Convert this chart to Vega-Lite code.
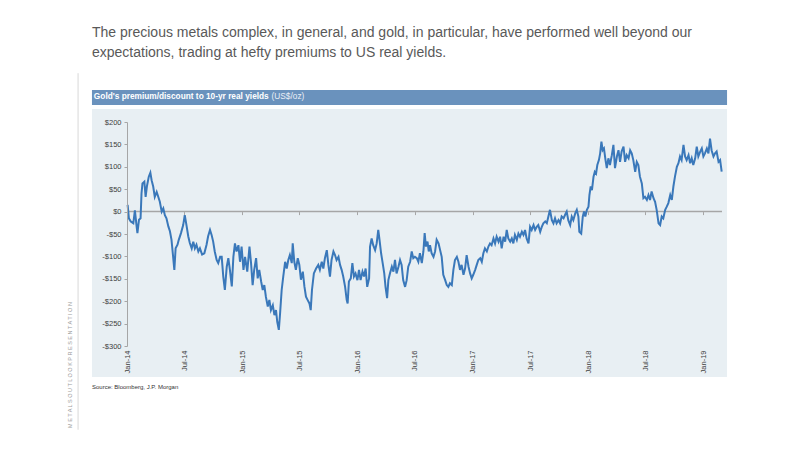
{
  "$schema": "https://vega.github.io/schema/vega-lite/v6.json",
  "width": 595,
  "height": 224,
  "autosize": "none",
  "padding": {"left": 127, "top": 122, "right": 80, "bottom": 105},
  "background": "white",
  "config": {"view": {"stroke": null}, "font": "Liberation Sans"},
  "title": {
    "text": ["The precious metals complex, in general, and gold, in particular, have performed well beyond our", "expectations, trading at hefty premiums to US real yields."],
    "anchor": "start",
    "frame": "group",
    "dx": -35,
    "offset": -1,
    "fontSize": 14,
    "fontWeight": "normal",
    "font": "Liberation Sans",
    "color": "#595959",
    "lineHeight": 20,
    "baseline": "bottom"
  },
  "resolve": {"axis": {"x": "independent", "y": "independent"}},
  "datasets": {
    "gold": [
      {"d":"2014-01-03","v":15},{"d":"2014-01-07","v":-15},{"d":"2014-01-13","v":-22},{"d":"2014-01-21","v":-26},{"d":"2014-01-26","v":3},{"d":"2014-01-31","v":-30},{"d":"2014-02-03","v":-48},{"d":"2014-02-08","v":-18},{"d":"2014-02-13","v":-15},{"d":"2014-02-16","v":41},{"d":"2014-02-19","v":63},{"d":"2014-02-25","v":67},{"d":"2014-03-01","v":33},{"d":"2014-03-05","v":56},{"d":"2014-03-11","v":78},{"d":"2014-03-16","v":87},{"d":"2014-03-20","v":70},{"d":"2014-03-25","v":56},{"d":"2014-03-30","v":33},{"d":"2014-04-05","v":44},{"d":"2014-04-10","v":33},{"d":"2014-04-15","v":22},{"d":"2014-04-21","v":0},{"d":"2014-04-26","v":7},{"d":"2014-05-01","v":-8},{"d":"2014-05-06","v":-15},{"d":"2014-05-12","v":-33},{"d":"2014-05-17","v":-44},{"d":"2014-05-22","v":-63},{"d":"2014-05-27","v":-100},{"d":"2014-05-31","v":-130},{"d":"2014-06-04","v":-82},{"d":"2014-06-10","v":-74},{"d":"2014-06-14","v":-63},{"d":"2014-06-21","v":-48},{"d":"2014-06-28","v":-30},{"d":"2014-07-03","v":-8},{"d":"2014-07-09","v":-33},{"d":"2014-07-14","v":-55},{"d":"2014-07-19","v":-70},{"d":"2014-07-25","v":-82},{"d":"2014-07-30","v":-67},{"d":"2014-08-04","v":-82},{"d":"2014-08-09","v":-74},{"d":"2014-08-15","v":-89},{"d":"2014-08-20","v":-82},{"d":"2014-08-27","v":-96},{"d":"2014-09-03","v":-93},{"d":"2014-09-10","v":-74},{"d":"2014-09-15","v":-55},{"d":"2014-09-21","v":-41},{"d":"2014-09-26","v":-52},{"d":"2014-10-01","v":-67},{"d":"2014-10-06","v":-89},{"d":"2014-10-12","v":-108},{"d":"2014-10-17","v":-115},
      {"d":"2014-10-23","v":-101},{"d":"2014-10-28","v":-101},{"d":"2014-11-02","v":-145},{"d":"2014-11-07","v":-175},{"d":"2014-11-13","v":-123},{"d":"2014-11-18","v":-104},{"d":"2014-11-23","v":-130},{"d":"2014-11-29","v":-167},{"d":"2014-12-04","v":-101},{"d":"2014-12-09","v":-71},{"d":"2014-12-14","v":-89},{"d":"2014-12-20","v":-75},{"d":"2014-12-25","v":-112},{"d":"2014-12-30","v":-78},
      {"d":"2015-01-05","v":-130},{"d":"2015-01-10","v":-101},{"d":"2015-01-17","v":-134},{"d":"2015-01-24","v":-78},{"d":"2015-01-29","v":-115},{"d":"2015-02-03","v":-164},{"d":"2015-02-08","v":-130},{"d":"2015-02-14","v":-104},{"d":"2015-02-19","v":-149},{"d":"2015-02-24","v":-130},{"d":"2015-03-02","v":-156},{"d":"2015-03-07","v":-175},{"d":"2015-03-12","v":-164},{"d":"2015-03-17","v":-190},{"d":"2015-03-23","v":-212},{"d":"2015-03-28","v":-197},{"d":"2015-04-02","v":-220},{"d":"2015-04-08","v":-209},{"d":"2015-04-13","v":-231},{"d":"2015-04-18","v":-220},{"d":"2015-04-22","v":-246},{"d":"2015-04-27","v":-264},{"d":"2015-05-01","v":-227},{"d":"2015-05-06","v":-175},{"d":"2015-05-11","v":-145},{"d":"2015-05-17","v":-112},{"d":"2015-05-22","v":-127},{"d":"2015-05-27","v":-108},{"d":"2015-06-01","v":-97},{"d":"2015-06-07","v":-115},{"d":"2015-06-10","v":-71},{"d":"2015-06-15","v":-112},{"d":"2015-06-20","v":-130},{"d":"2015-06-26","v":-104},{"d":"2015-07-01","v":-119},{"d":"2015-07-06","v":-152},{"d":"2015-07-12","v":-134},{"d":"2015-07-17","v":-167},{"d":"2015-07-22","v":-190},{"d":"2015-07-27","v":-197},{"d":"2015-08-02","v":-205},{"d":"2015-08-06","v":-220},{"d":"2015-08-10","v":-175},{"d":"2015-08-16","v":-138},{"d":"2015-08-23","v":-127},{"d":"2015-08-30","v":-119},{"d":"2015-09-04","v":-130},{"d":"2015-09-10","v":-112},{"d":"2015-09-15","v":-127},{"d":"2015-09-20","v":-104},{"d":"2015-09-26","v":-86},{"d":"2015-10-01","v":-119},{"d":"2015-10-06","v":-145},{"d":"2015-10-11","v":-108},{"d":"2015-10-17","v":-89},{"d":"2015-10-22","v":-97},{"d":"2015-10-27","v":-108},{"d":"2015-11-02","v":-101},{"d":"2015-11-07","v":-119},{"d":"2015-11-12","v":-130},{"d":"2015-11-17","v":-145},{"d":"2015-11-23","v":-168},{"d":"2015-11-28","v":-197},{"d":"2015-12-01","v":-205},{"d":"2015-12-05","v":-156},{"d":"2015-12-11","v":-149},{"d":"2015-12-16","v":-115},{"d":"2015-12-21","v":-145},{"d":"2015-12-26","v":-138},
      {"d":"2016-01-01","v":-153},{"d":"2016-01-06","v":-130},{"d":"2016-01-11","v":-153},{"d":"2016-01-17","v":-134},{"d":"2016-01-22","v":-145},{"d":"2016-01-27","v":-127},{"d":"2016-02-01","v":-168},{"d":"2016-02-07","v":-149},{"d":"2016-02-10","v":-78},{"d":"2016-02-15","v":-60},{"d":"2016-02-20","v":-75},{"d":"2016-02-26","v":-86},{"d":"2016-03-02","v":-71},{"d":"2016-03-07","v":-41},{"d":"2016-03-11","v":-63},{"d":"2016-03-16","v":-93},{"d":"2016-03-21","v":-115},{"d":"2016-03-26","v":-138},{"d":"2016-03-30","v":-168},{"d":"2016-04-04","v":-193},{"d":"2016-04-08","v":-153},{"d":"2016-04-13","v":-138},{"d":"2016-04-19","v":-123},{"d":"2016-04-24","v":-134},{"d":"2016-04-29","v":-108},{"d":"2016-05-04","v":-138},{"d":"2016-05-10","v":-123},{"d":"2016-05-15","v":-108},{"d":"2016-05-20","v":-119},{"d":"2016-05-25","v":-153},{"d":"2016-05-31","v":-168},{"d":"2016-06-05","v":-153},{"d":"2016-06-10","v":-123},{"d":"2016-06-16","v":-112},{"d":"2016-06-21","v":-89},{"d":"2016-06-26","v":-104},{"d":"2016-07-01","v":-101},{"d":"2016-07-07","v":-104},{"d":"2016-07-12","v":-112},{"d":"2016-07-17","v":-93},{"d":"2016-07-23","v":-115},{"d":"2016-07-28","v":-89},{"d":"2016-08-01","v":-48},{"d":"2016-08-05","v":-78},{"d":"2016-08-10","v":-67},{"d":"2016-08-14","v":-89},{"d":"2016-08-18","v":-75},{"d":"2016-08-23","v":-93},{"d":"2016-08-29","v":-101},{"d":"2016-09-03","v":-89},{"d":"2016-09-08","v":-63},{"d":"2016-09-14","v":-71},{"d":"2016-09-19","v":-86},{"d":"2016-09-24","v":-101},{"d":"2016-09-29","v":-141},{"d":"2016-10-05","v":-153},{"d":"2016-10-10","v":-164},{"d":"2016-10-15","v":-168},{"d":"2016-10-20","v":-160},{"d":"2016-10-26","v":-164},{"d":"2016-10-31","v":-130},{"d":"2016-11-05","v":-108},{"d":"2016-11-11","v":-101},{"d":"2016-11-16","v":-112},{"d":"2016-11-21","v":-130},{"d":"2016-11-26","v":-119},{"d":"2016-12-02","v":-141},{"d":"2016-12-07","v":-127},{"d":"2016-12-12","v":-97},{"d":"2016-12-18","v":-123},{"d":"2016-12-23","v":-138},{"d":"2016-12-28","v":-149},
      {"d":"2017-01-02","v":-141},{"d":"2017-01-08","v":-130},{"d":"2017-01-13","v":-119},{"d":"2017-01-18","v":-108},{"d":"2017-01-24","v":-104},{"d":"2017-01-29","v":-112},{"d":"2017-02-03","v":-93},{"d":"2017-02-08","v":-82},{"d":"2017-02-14","v":-89},{"d":"2017-02-19","v":-78},{"d":"2017-02-24","v":-71},{"d":"2017-03-01","v":-75},{"d":"2017-03-07","v":-60},{"d":"2017-03-12","v":-71},{"d":"2017-03-17","v":-56},{"d":"2017-03-23","v":-67},{"d":"2017-03-28","v":-56},{"d":"2017-04-02","v":-82},{"d":"2017-04-08","v":-56},{"d":"2017-04-13","v":-67},{"d":"2017-04-18","v":-41},{"d":"2017-04-23","v":-60},{"d":"2017-04-29","v":-67},{"d":"2017-05-04","v":-60},{"d":"2017-05-09","v":-71},{"d":"2017-05-14","v":-52},{"d":"2017-05-20","v":-63},{"d":"2017-05-25","v":-49},{"d":"2017-05-30","v":-56},{"d":"2017-06-05","v":-45},{"d":"2017-06-10","v":-52},{"d":"2017-06-15","v":-41},{"d":"2017-06-20","v":-60},{"d":"2017-06-26","v":-71},{"d":"2017-07-01","v":-34},{"d":"2017-07-06","v":-41},{"d":"2017-07-12","v":-30},{"d":"2017-07-17","v":-41},{"d":"2017-07-22","v":-34},{"d":"2017-07-27","v":-30},{"d":"2017-08-02","v":-45},{"d":"2017-08-07","v":-34},{"d":"2017-08-12","v":-26},{"d":"2017-08-18","v":-22},{"d":"2017-08-23","v":-26},{"d":"2017-08-28","v":-11},{"d":"2017-09-02","v":4},{"d":"2017-09-08","v":-19},{"d":"2017-09-13","v":-26},{"d":"2017-09-18","v":-15},{"d":"2017-09-23","v":-26},{"d":"2017-09-29","v":-19},{"d":"2017-10-04","v":-26},{"d":"2017-10-09","v":-11},{"d":"2017-10-15","v":-15},{"d":"2017-10-20","v":-7},{"d":"2017-10-25","v":0},{"d":"2017-10-30","v":-19},{"d":"2017-11-05","v":-30},{"d":"2017-11-10","v":-11},{"d":"2017-11-15","v":-19},{"d":"2017-11-21","v":-4},{"d":"2017-11-26","v":4},{"d":"2017-12-01","v":-11},{"d":"2017-12-04","v":-45},{"d":"2017-12-10","v":-49},{"d":"2017-12-15","v":-11},{"d":"2017-12-19","v":0},{"d":"2017-12-23","v":-11},{"d":"2017-12-28","v":4},
      {"d":"2018-01-02","v":11},{"d":"2018-01-05","v":37},{"d":"2018-01-09","v":56},{"d":"2018-01-13","v":48},{"d":"2018-01-18","v":78},{"d":"2018-01-22","v":89},{"d":"2018-01-26","v":85},{"d":"2018-01-30","v":104},{"d":"2018-02-04","v":115},{"d":"2018-02-08","v":130},{"d":"2018-02-12","v":156},{"d":"2018-02-16","v":137},{"d":"2018-02-20","v":141},{"d":"2018-02-25","v":115},{"d":"2018-03-01","v":97},{"d":"2018-03-06","v":119},{"d":"2018-03-11","v":104},{"d":"2018-03-17","v":126},{"d":"2018-03-22","v":149},{"d":"2018-03-27","v":97},{"d":"2018-04-02","v":123},{"d":"2018-04-07","v":137},{"d":"2018-04-12","v":111},{"d":"2018-04-17","v":134},{"d":"2018-04-23","v":145},{"d":"2018-04-28","v":111},{"d":"2018-05-03","v":126},{"d":"2018-05-09","v":119},{"d":"2018-05-14","v":137},{"d":"2018-05-19","v":130},{"d":"2018-05-24","v":115},{"d":"2018-05-30","v":89},{"d":"2018-06-04","v":111},{"d":"2018-06-09","v":104},{"d":"2018-06-14","v":78},{"d":"2018-06-20","v":63},{"d":"2018-06-25","v":30},{"d":"2018-06-30","v":33},{"d":"2018-07-06","v":26},{"d":"2018-07-11","v":37},{"d":"2018-07-16","v":26},{"d":"2018-07-21","v":45},{"d":"2018-07-27","v":30},{"d":"2018-08-01","v":22},{"d":"2018-08-06","v":4},{"d":"2018-08-12","v":-26},{"d":"2018-08-17","v":-30},{"d":"2018-08-22","v":-11},{"d":"2018-08-27","v":-15},{"d":"2018-09-02","v":4},{"d":"2018-09-07","v":11},{"d":"2018-09-12","v":19},{"d":"2018-09-18","v":37},{"d":"2018-09-23","v":26},{"d":"2018-09-28","v":56},{"d":"2018-10-03","v":78},{"d":"2018-10-09","v":100},{"d":"2018-10-14","v":108},{"d":"2018-10-19","v":123},{"d":"2018-10-24","v":115},{"d":"2018-10-30","v":149},{"d":"2018-11-04","v":123},{"d":"2018-11-09","v":115},{"d":"2018-11-15","v":126},{"d":"2018-11-20","v":108},{"d":"2018-11-25","v":119},{"d":"2018-11-30","v":104},{"d":"2018-12-06","v":119},{"d":"2018-12-11","v":145},{"d":"2018-12-16","v":123},{"d":"2018-12-22","v":134},{"d":"2018-12-27","v":141},
      {"d":"2019-01-01","v":123},{"d":"2019-01-06","v":130},{"d":"2019-01-12","v":141},{"d":"2019-01-17","v":130},{"d":"2019-01-22","v":163},{"d":"2019-01-27","v":137},{"d":"2019-02-02","v":123},{"d":"2019-02-07","v":130},{"d":"2019-02-12","v":134},{"d":"2019-02-18","v":111},{"d":"2019-02-23","v":115},{"d":"2019-02-28","v":89}
    ]
  },
  "layer": [
    {
      "data": {"values": [{}]},
      "mark": {"type": "rect", "color": "#e8eff3"},
      "encoding": {
        "x": {"datum": {"year": 2013, "month": 9, "date": 12, "utc": true}, "type": "temporal", "axis": null},
        "x2": {"datum": {"year": 2019, "month": 3, "date": 17, "utc": true}},
        "y": {"datum": 229, "type": "quantitative", "axis": null},
        "y2": {"datum": -369}
      }
    },
    {
      "data": {"values": [{}]},
      "mark": {"type": "rect", "color": "#6a92bd"},
      "encoding": {
        "x": {"datum": {"year": 2013, "month": 9, "date": 12, "utc": true}, "type": "temporal", "axis": null},
        "x2": {"datum": {"year": 2019, "month": 3, "date": 17, "utc": true}},
        "y": {"datum": 271.4, "type": "quantitative", "axis": null},
        "y2": {"datum": 238}
      }
    },
    {
      "data": {"values": [{}]},
      "mark": {"type": "text", "text": "Gold's premium/discount to 10-yr real yields", "fontWeight": "bold", "fontSize": 8.3, "color": "#ffffff", "align": "left", "baseline": "middle", "font": "Liberation Sans"},
      "encoding": {
        "x": {"datum": {"year": 2013, "month": 9, "date": 18, "utc": true}, "type": "temporal", "axis": null},
        "y": {"datum": 254.7, "type": "quantitative", "axis": null}
      }
    },
    {
      "data": {"values": [{}]},
      "mark": {"type": "text", "text": "(US$/oz)", "fontSize": 8.3, "color": "#eaf0f7", "align": "left", "baseline": "middle", "font": "Liberation Sans"},
      "encoding": {
        "x": {"datum": {"year": 2015, "month": 4, "date": 4, "utc": true}, "type": "temporal", "axis": null},
        "y": {"datum": 254.7, "type": "quantitative", "axis": null}
      }
    },
    {
      "data": {"values": [{}]},
      "mark": {"type": "rule", "color": "#d9d9d9", "strokeWidth": 1},
      "encoding": {
        "x": {"datum": {"year": 2013, "month": 7, "date": 30, "utc": true}, "type": "temporal", "axis": null},
        "y": {"datum": 309, "type": "quantitative", "axis": null},
        "y2": {"datum": -487}
      }
    },
    {
      "data": {"values": [{}]},
      "mark": {"type": "text", "text": "M E T A L S   O U T L O O K   P R E S E N T A T I O N", "angle": 270, "fontSize": 5.5, "color": "#9a9a9a", "align": "left", "baseline": "middle", "font": "Liberation Sans"},
      "encoding": {
        "x": {"datum": {"year": 2013, "month": 7, "date": 4, "utc": true}, "type": "temporal", "axis": null},
        "y": {"datum": -483, "type": "quantitative", "axis": null}
      }
    },
    {
      "data": {"values": [{}]},
      "mark": {"type": "text", "text": "Source: Bloomberg, J.P. Morgan", "fontSize": 6, "color": "#333333", "align": "left", "baseline": "middle", "font": "Liberation Sans"},
      "encoding": {
        "x": {"datum": {"year": 2013, "month": 9, "date": 12, "utc": true}, "type": "temporal", "axis": null},
        "y": {"datum": -392, "type": "quantitative", "axis": null}
      }
    },
    {
      "data": {"values": [{}]},
      "mark": {"type": "rule", "color": "#a6a6a6", "strokeWidth": 1.5},
      "encoding": {
        "x": {
          "datum": {"year": 2014, "month": 1, "date": 1, "utc": true},
          "type": "temporal",
          "axis": {
            "orient": "bottom", "offset": -134.4, "labels": false, "domain": false, "ticks": true, "zindex": 1,
            "tickSize": 3, "tickColor": "#a6a6a6", "tickWidth": 1, "grid": false, "title": null,
            "values": [
              {"year": 2014, "month": 1, "date": 1, "utc": true}, {"year": 2014, "month": 7, "date": 1, "utc": true},
              {"year": 2015, "month": 1, "date": 1, "utc": true}, {"year": 2015, "month": 7, "date": 1, "utc": true},
              {"year": 2016, "month": 1, "date": 1, "utc": true}, {"year": 2016, "month": 7, "date": 1, "utc": true},
              {"year": 2017, "month": 1, "date": 1, "utc": true}, {"year": 2017, "month": 7, "date": 1, "utc": true},
              {"year": 2018, "month": 1, "date": 1, "utc": true}, {"year": 2018, "month": 7, "date": 1, "utc": true},
              {"year": 2019, "month": 1, "date": 1, "utc": true}
            ]
          }
        },
        "x2": {"datum": {"year": 2019, "month": 3, "date": 1, "utc": true}},
        "y": {"datum": 0, "type": "quantitative", "axis": null}
      }
    },
    {
      "data": {"name": "gold"},
      "mark": {"type": "line", "color": "#3a78ba", "strokeWidth": 2},
      "encoding": {
        "x": {
          "field": "d",
          "type": "temporal",
          "scale": {"type": "utc", "domain": [{"year": 2014, "month": 1, "date": 1, "utc": true}, {"year": 2019, "month": 3, "date": 1, "utc": true}], "nice": false},
          "axis": {
            "orient": "bottom",
            "zindex": 1,
            "values": [
              {"year": 2014, "month": 1, "date": 1, "utc": true}, {"year": 2014, "month": 7, "date": 1, "utc": true},
              {"year": 2015, "month": 1, "date": 1, "utc": true}, {"year": 2015, "month": 7, "date": 1, "utc": true},
              {"year": 2016, "month": 1, "date": 1, "utc": true}, {"year": 2016, "month": 7, "date": 1, "utc": true},
              {"year": 2017, "month": 1, "date": 1, "utc": true}, {"year": 2017, "month": 7, "date": 1, "utc": true},
              {"year": 2018, "month": 1, "date": 1, "utc": true}, {"year": 2018, "month": 7, "date": 1, "utc": true},
              {"year": 2019, "month": 1, "date": 1, "utc": true}
            ],
            "format": "%b-%y",
            "labelAngle": 270,
            "labelFlush": false,
            "labelOverlap": false,
            "labelFontSize": 7.5,
            "labelFont": "Liberation Sans",
            "labelColor": "#404040",
            "labelPadding": 4,
            "ticks": false,
            "tickSize": 0,
            "domain": false,
            "grid": false,
            "title": null
          }
        },
        "y": {
          "field": "v",
          "type": "quantitative",
          "scale": {"domain": [-300, 200], "nice": false, "zero": false},
          "axis": {
            "zindex": 1,
            "values": [-300, -250, -200, -150, -100, -50, 0, 50, 100, 150, 200],
            "labelExpr": "datum.value < 0 ? '-$' + abs(datum.value) : '$' + datum.value",
            "grid": false,
            "title": null,
            "domainColor": "#a6a6a6",
            "tickColor": "#a6a6a6",
            "tickSize": 3,
            "labelFontSize": 7.5,
            "labelFont": "Liberation Sans",
            "labelColor": "#404040",
            "labelPadding": 3
          }
        }
      }
    }
  ]
}
